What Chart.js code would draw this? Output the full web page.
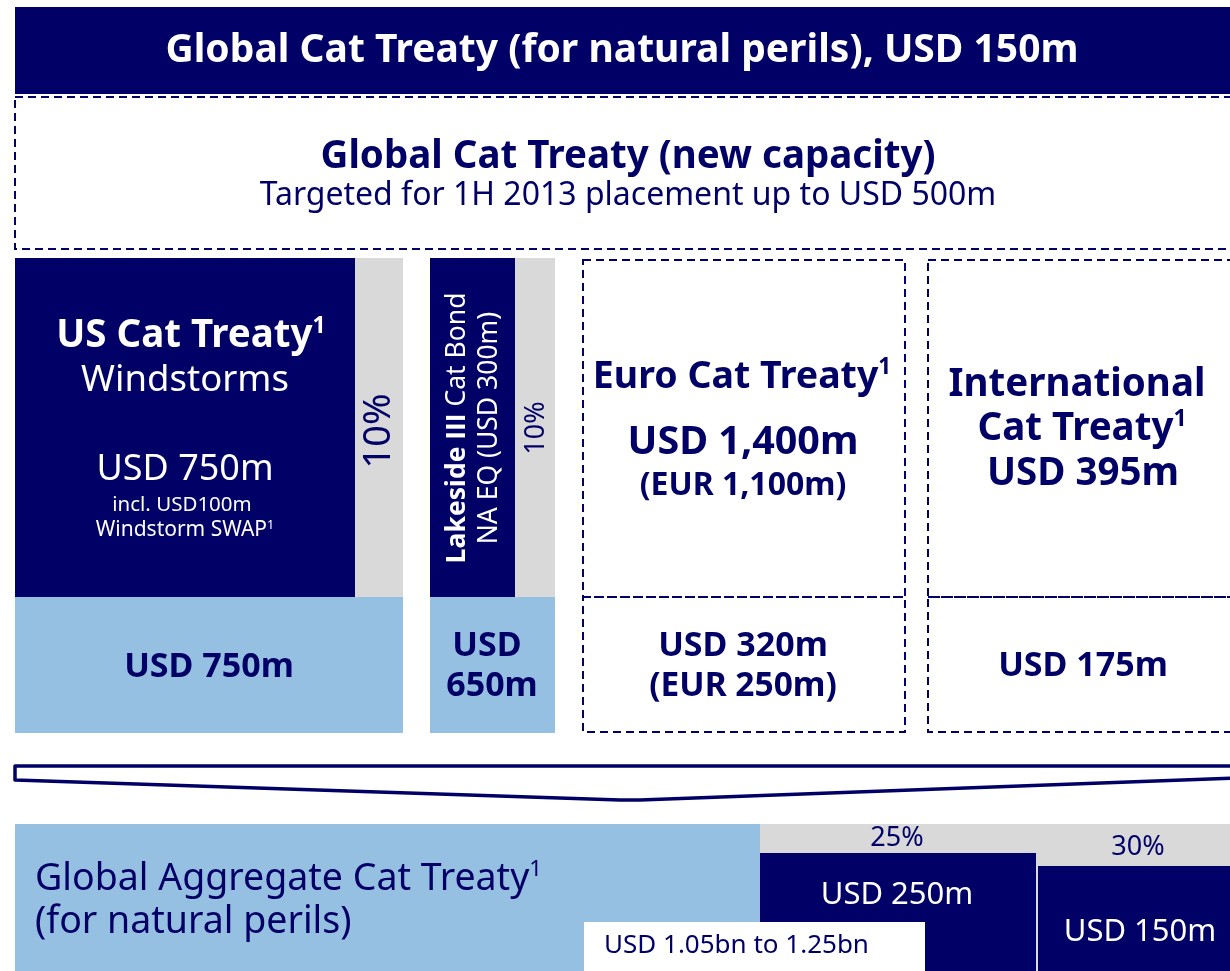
<!DOCTYPE html>
<html>
<head>
<meta charset="utf-8">
<script src="https://cdn.jsdelivr.net/npm/chart.js@4.4.1/dist/chart.umd.min.js"></script>
<style>
html,body{margin:0;padding:0;background:#fff;}
#wrap{width:1230px;height:971px;}
</style>
</head>
<body>
<div id="wrap"><canvas id="c" width="1230" height="971"></canvas></div>
<script>
// ---- data ----
const topTreatyUSDm = 150;
const newCapacityUSDm = 500;
const treatyNames = ['US Cat Treaty', 'Lakeside III', 'Euro Cat Treaty', 'International Cat Treaty'];
const upperLayerUSDm = [750, 300, 1400, 395];
const upperLayerEURm = [null, null, 1100, null];
const lowerLayerUSDm = [750, 650, 320, 175];
const lowerLayerEURm = [null, null, 250, null];
const retainedSharePct = [10, 10];
const aggregateLayerUSDm = [250, 150];
const aggregateSharePct = [25, 30];
const aggregateRangeUSDbn = [1.05, 1.25];

// ---- styles ----
const NAVY = '#000066';
const LIGHT = '#96c0e2';
const GREY = '#d9d9d9';
const FONT = '"Noto Sans", "Open Sans", sans-serif';
const fmt = v => v.toLocaleString('en-US');

// ---- layout (diagram geometry in scale units) ----
const L = {
  top: [15, 7, 1240, 94],
  newCap: [15, 97, 1240, 249],
  usNavy: [15, 258, 355, 597], usGrey: [355, 258, 403, 597], usLow: [15, 597, 403, 733],
  lkNavy: [430, 258, 515, 597], lkGrey: [515, 258, 555, 597], lkLow: [430, 597, 555, 733],
  euUp: [583, 260, 905, 597], euLow: [583, 597, 905, 732],
  inUp: [928, 260, 1240, 597], inLow: [928, 597, 1240, 732],
  aggLight: [15, 824, 760, 971],
  aggGrey: [760, 824, 1240, 971],
  agg1: [760, 853, 1036, 971], agg2: [1038, 866, 1240, 971],
  rangeBox: [584, 922, 925, 971]
};

function rich(ctx, segs, x, y, size, color, align) {
  let total = 0;
  const parts = segs.map(s => {
    const sz = s.sup ? size * 0.6 : size;
    const f = (s.w || 400) + ' ' + sz + 'px ' + (s.f || FONT);
    ctx.font = f;
    const w = ctx.measureText(s.t).width;
    total += w;
    return {s, sz, w, f};
  });
  let cx = align === 'left' ? x : x - total / 2;
  ctx.fillStyle = color;
  ctx.textBaseline = 'middle';
  ctx.textAlign = 'left';
  parts.forEach(p => {
    ctx.font = p.f;
    ctx.fillText(p.s.t, cx, p.s.sup ? y - size * 0.24 : y);
    cx += p.w;
  });
}

const diagram = {
  id: 'diagram',
  afterDraw(chart) {
    const ctx = chart.ctx;
    const xs = chart.scales.x, ys = chart.scales.y;
    const X = v => xs.getPixelForValue(v), Y = v => ys.getPixelForValue(v);
    const fill = (r, c) => { ctx.fillStyle = c; ctx.fillRect(X(r[0]), Y(r[1]), X(r[2]) - X(r[0]), Y(r[3]) - Y(r[1])); };
    const dash = (r) => {
      ctx.save(); ctx.strokeStyle = NAVY; ctx.lineWidth = 2; ctx.setLineDash([8, 5]);
      ctx.strokeRect(X(r[0]), Y(r[1]), X(r[2]) - X(r[0]), Y(r[3]) - Y(r[1]));
      ctx.restore();
    };
    const T = (segs, x, y, size, color, align) => rich(ctx, segs, X(x), Y(y), size, color, align);
    ctx.save();
    // top bar
    fill(L.top, NAVY);
    T([{t: 'Global Cat Treaty (for natural perils), USD ' + topTreatyUSDm + 'm', w: 700}], 622, 51, 39, '#fff');
    // new capacity
    dash(L.newCap);
    T([{t: 'Global Cat Treaty (new capacity)', w: 700}], 628, 157, 38.5, NAVY);
    T([{t: 'Targeted for 1H 2013 placement up to USD ' + newCapacityUSDm + 'm'}], 628, 196, 32, NAVY);
    // US Cat
    fill(L.usNavy, NAVY); fill(L.usGrey, GREY); fill(L.usLow, LIGHT);
    T([{t: treatyNames[0], w: 700}, {t: '1', w: 700, sup: true}], 191, 336, 38.5, '#fff');
    T([{t: 'Windstorms'}], 185, 381, 36.5, '#fff');
    T([{t: 'USD ' + fmt(upperLayerUSDm[0]) + 'm'}], 185, 470, 36, '#fff');
    T([{t: 'incl. USD100m'}], 182, 505, 20.5, '#fff');
    T([{t: 'Windstorm SWAP'}, {t: '1', sup: true}], 185, 530, 21, '#fff');
    T([{t: 'USD ' + fmt(lowerLayerUSDm[0]) + 'm', w: 700}], 209, 667, 34, NAVY);
    // rotated 10%
    ctx.save(); ctx.translate(X(379), Y(431)); ctx.rotate(-Math.PI / 2);
    rich(ctx, [{t: retainedSharePct[0] + '%'}], 0, 0, 38, NAVY); ctx.restore();
    // Lakeside
    fill(L.lkNavy, NAVY); fill(L.lkGrey, GREY); fill(L.lkLow, LIGHT);
    ctx.save(); ctx.translate(X(473), Y(428)); ctx.rotate(-Math.PI / 2);
    rich(ctx, [{t: treatyNames[1], w: 700, f: '"Open Sans", sans-serif'}, {t: ' Cat Bond'}], 0, -16, 26.5, '#fff');
    rich(ctx, [{t: 'NA EQ (USD ' + upperLayerUSDm[1] + 'm)'}], 0, 16, 26.5, '#fff');
    ctx.restore();
    ctx.save(); ctx.translate(X(536), Y(428)); ctx.rotate(-Math.PI / 2);
    rich(ctx, [{t: retainedSharePct[1] + '%'}], 0, 0, 27, NAVY); ctx.restore();
    T([{t: 'USD', w: 700}], 487, 646, 34, NAVY);
    T([{t: lowerLayerUSDm[1] + 'm', w: 700}], 492, 686, 34, NAVY);
    // Euro
    dash(L.euUp); dash(L.euLow);
    T([{t: treatyNames[2], w: 700}, {t: '1', w: 700, sup: true}], 742, 377, 37.5, NAVY);
    T([{t: 'USD ' + fmt(upperLayerUSDm[2]) + 'm', w: 700}], 743, 443, 39.5, NAVY);
    T([{t: '(EUR ' + fmt(upperLayerEURm[2]) + 'm)', w: 700}], 743, 486, 32, NAVY);
    T([{t: 'USD ' + lowerLayerUSDm[2] + 'm', w: 700}], 743, 646, 34, NAVY);
    T([{t: '(EUR ' + lowerLayerEURm[2] + 'm)', w: 700}], 743, 686, 33.5, NAVY);
    // International
    dash(L.inUp); dash(L.inLow);
    T([{t: 'International', w: 700}], 1077, 385, 38.5, NAVY);
    T([{t: 'Cat Treaty', w: 700}, {t: '1', w: 700, sup: true}], 1082, 429, 38.5, NAVY);
    T([{t: 'USD ' + upperLayerUSDm[3] + 'm', w: 700}], 1083, 474, 38.5, NAVY);
    T([{t: 'USD ' + lowerLayerUSDm[3] + 'm', w: 700}], 1083, 666, 34, NAVY);
    // arrow
    ctx.save(); ctx.strokeStyle = NAVY; ctx.lineWidth = 3.5; ctx.lineJoin = 'round';
    ctx.beginPath();
    ctx.moveTo(X(1240), Y(766)); ctx.lineTo(X(15), Y(766)); ctx.lineTo(X(15), Y(780));
    ctx.lineTo(X(620), Y(800)); ctx.lineTo(X(640), Y(800)); ctx.lineTo(X(1240), Y(778));
    ctx.stroke(); ctx.restore();
    // aggregate
    fill(L.aggLight, LIGHT); fill(L.aggGrey, GREY); fill(L.agg1, NAVY); fill(L.agg2, NAVY);
    T([{t: 'Global Aggregate Cat Treaty'}, {t: '1', sup: true}], 35, 879, 37.5, NAVY, 'left');
    T([{t: '(for natural perils)'}], 35, 922, 37.5, NAVY, 'left');
    T([{t: aggregateSharePct[0] + '%'}], 897, 838, 27, NAVY);
    T([{t: aggregateSharePct[1] + '%'}], 1138, 847, 27, NAVY);
    T([{t: 'USD ' + aggregateLayerUSDm[0] + 'm'}], 897, 895, 31, '#fff');
    T([{t: 'USD ' + aggregateLayerUSDm[1] + 'm'}], 1140, 932, 31, '#fff');
    fill(L.rangeBox, '#fff');
    T([{t: 'USD ' + aggregateRangeUSDbn[0].toFixed(2) + 'bn to ' + aggregateRangeUSDbn[1].toFixed(2) + 'bn'}], 604, 946, 26, NAVY, 'left');
    ctx.restore();
  }
};

new Chart(document.getElementById('c'), {
  type: 'scatter',
  data: { datasets: [{ data: [], pointRadius: 0 }] },
  options: {
    responsive: false, animation: false,
    layout: { padding: 0 },
    plugins: { legend: { display: false }, tooltip: { enabled: false } },
    scales: {
      x: { type: 'linear', min: 0, max: 1230, display: false },
      y: { type: 'linear', min: 0, max: 971, reverse: true, display: false }
    }
  },
  plugins: [diagram]
});
</script>
</body>
</html>
